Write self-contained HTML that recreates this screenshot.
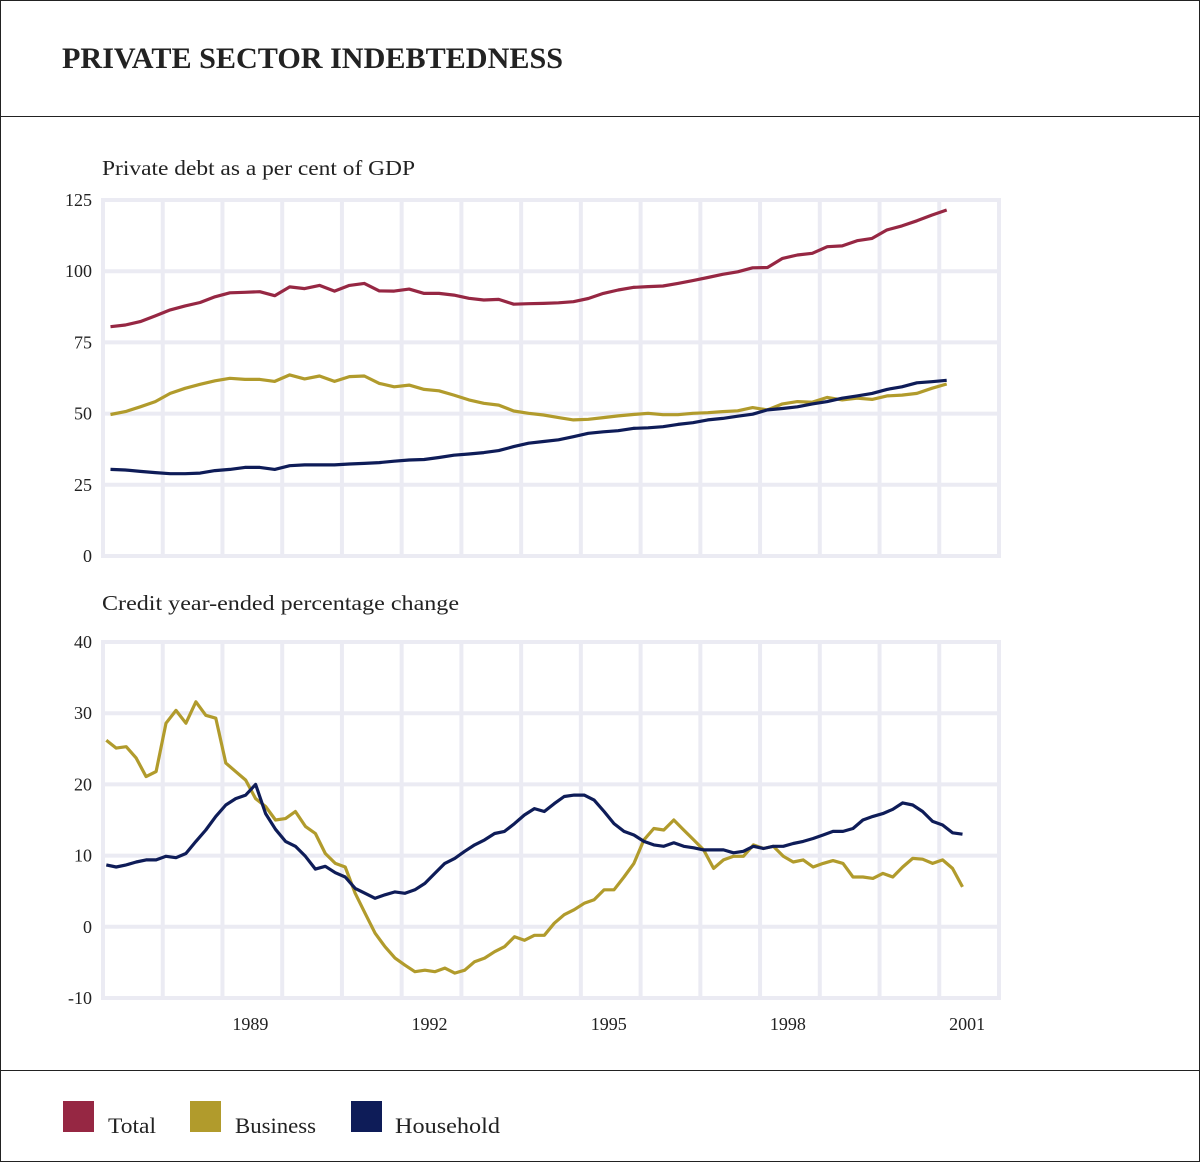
<!DOCTYPE html>
<html><head><meta charset="utf-8"><style>
html,body{margin:0;padding:0;background:#fff}
svg{display:block}
text{font-family:"Liberation Serif",serif;fill:#222}
</style></head><body>
<svg id="c" width="1200" height="1162" viewBox="0 0 1200 1162">
<rect x="0.5" y="0.5" width="1199" height="1161" fill="#fff" stroke="#222" stroke-width="1"/>
<line x1="0" y1="116.5" x2="1200" y2="116.5" stroke="#222"/>
<line x1="0" y1="1070.5" x2="1200" y2="1070.5" stroke="#222"/>
<text x="62" y="68" font-size="30" font-weight="bold" textLength="501" lengthAdjust="spacingAndGlyphs">PRIVATE SECTOR INDEBTEDNESS</text>
<text x="102" y="175" font-size="21" textLength="313" lengthAdjust="spacingAndGlyphs">Private debt as a per cent of GDP</text>
<text x="102" y="610" font-size="21" textLength="357" lengthAdjust="spacingAndGlyphs">Credit year-ended percentage change</text>
<g id="topPanel"></g>
<g id="botPanel"></g>
<g>
<g><rect x="63" y="1101" width="31" height="31" fill="#962743"/><text x="108" y="1133" font-size="22" textLength="48" lengthAdjust="spacingAndGlyphs">Total</text></g>
<g><rect x="190" y="1101" width="31" height="31" fill="#b19b2c"/><text x="235" y="1133" font-size="22" textLength="81" lengthAdjust="spacingAndGlyphs">Business</text></g>
<g><rect x="351" y="1101" width="31" height="31" fill="#0e1c58"/><text x="395" y="1133" font-size="22" textLength="105" lengthAdjust="spacingAndGlyphs">Household</text></g>
</g>
</svg>
<script>
// Top panel: quarterly, private debt % of GDP
const levelStart = 1987.125;
const levelStep = 0.25;
const totalLevel = [80.5,81.1,82.3,84.3,86.4,87.8,89.0,91.0,92.4,92.6,92.8,91.4,94.5,93.9,95.0,93.0,95.0,95.7,93.1,93.0,93.7,92.2,92.2,91.6,90.5,89.9,90.1,88.4,88.6,
88.7,88.9,89.3,90.4,92.2,93.4,94.3,94.6,94.8,95.7,96.7,97.8,98.9,99.8,101.2,101.3,104.5,105.7,106.3,108.6,108.9,110.7,111.5,114.5,115.9,117.7,119.7,121.5];
const businessLevel = [49.7,50.7,52.4,54.2,57.1,58.9,60.3,61.5,62.4,62.0,62.0,61.3,63.6,62.2,63.2,61.3,63.0,63.2,60.6,59.4,60.0,58.5,58.0,56.5,54.8,53.6,53.0,50.9,50.1,
49.5,48.6,47.8,48.0,48.6,49.2,49.7,50.1,49.6,49.6,50.1,50.3,50.7,51.0,52.1,51.3,53.4,54.2,54.0,55.7,54.8,55.4,55.0,56.2,56.5,57.1,58.9,60.4];
const householdLevel = [30.4,30.2,29.7,29.3,28.9,28.9,29.1,30.0,30.4,31.1,31.1,30.4,31.7,32.0,32.0,32.0,32.3,32.5,32.8,33.3,33.7,33.9,34.6,35.4,35.8,36.3,37.0,38.4,39.6,
40.2,40.8,41.9,43.1,43.6,44.0,44.8,45.0,45.4,46.2,46.8,47.8,48.3,49.1,49.8,51.3,51.8,52.4,53.4,54.2,55.4,56.2,57.1,58.5,59.4,60.8,61.2,61.7];
const levelTicks = [0,25,50,75,100,125];
// Bottom panel: bi-monthly samples, year-ended % change
const growthStart = 1987.055;
const growthStep = 1/6;
const businessGrowth = [26.2,25.1,25.3,23.7,21.1,21.8,28.6,30.4,28.6,31.6,29.7,29.3,23.0,21.8,20.6,18.0,16.9,15.0,15.2,16.2,14.1,13.1,10.3,8.9,8.4,4.7,1.9,-0.9,-2.8,-4.4,-5.4,-6.3,-6.1,-6.3,-5.8,-6.5,-6.1,-4.9,-4.4,-3.5,-2.8,-1.4,-1.9,-1.2,
-1.2,0.5,1.7,2.4,3.3,3.8,5.2,5.2,7.0,8.9,12.2,13.8,13.6,15.0,13.6,12.2,10.8,8.2,9.4,9.9,9.9,11.5,11.0,11.3,9.9,9.1,9.4,8.4,8.9,9.3,8.9,7.0,7.0,6.8,7.5,7.0,8.4,9.6,9.5,8.9,9.4,8.2,5.6];
const householdGrowth = [8.7,8.4,8.7,9.1,9.4,9.4,9.9,9.7,10.3,12.0,13.6,15.5,17.1,18.0,18.5,20.0,15.9,13.7,12.0,11.3,9.9,8.1,8.5,7.6,7.0,5.4,4.7,4.0,4.5,4.9,4.7,5.2,6.1,7.5,8.9,9.6,10.6,11.5,12.2,13.1,13.4,14.5,15.7,16.6,
16.2,17.3,18.3,18.5,18.5,17.8,16.2,14.5,13.4,12.9,12.0,11.5,11.3,11.8,11.3,11.1,10.8,10.8,10.8,10.4,10.6,11.3,11.0,11.3,11.3,11.7,12.0,12.4,12.9,13.4,13.4,13.8,15.0,15.5,15.9,16.5,17.4,17.1,16.2,14.8,14.3,13.2,13.0];
const growthTicks = [-10,0,10,20,30,40];
const yearLabels = ["1989","1992","1995","1998","2001"];
const yearLabelPos = [1989.5,1992.5,1995.5,1998.5,2001.5];

const NS = "http://www.w3.org/2000/svg";
const X0 = 1987, X1 = 2002, PX0 = 103, PX1 = 999;
function xs(t){ return PX0 + (t - X0) / (X1 - X0) * (PX1 - PX0); }
function mk(tag, attrs, parent){ const e = document.createElementNS(NS, tag); for (const k in attrs) e.setAttribute(k, attrs[k]); parent.appendChild(e); return e; }

function panel(g, yTop, yBottom, vmin, vmax, ticks, name){
  const ys = v => yBottom - (v - vmin) / (vmax - vmin) * (yBottom - yTop);
  const grid = mk('g', {}, g);
  
  
  for (let yr = X0; yr <= X1; yr++) {
    const l = mk('line', {x1: xs(yr), x2: xs(yr), y1: yTop - 2, y2: yBottom + 2, stroke: '#ebebf3', 'stroke-width': 4}, grid);
    
    
  }
  ticks.forEach(v => {
    const l = mk('line', {x1: PX0 - 2, x2: PX1 + 2, y1: ys(v), y2: ys(v), stroke: '#ebebf3', 'stroke-width': 4}, grid);
    
    
    const t = mk('text', {x: 92, y: ys(v) + 6, 'font-size': 18, 'text-anchor': 'end'}, g);
    t.textContent = v;
    
    
  });
  return ys;
}
function series(g, vals, start, step, ys, color, name){
  const d = vals.map((v, i) => (i ? 'L' : 'M') + xs(start + i * step).toFixed(1) + ' ' + ys(v).toFixed(1)).join(' ');
  const p = mk('path', {d: d, fill: 'none', stroke: color, 'stroke-width': 3.2, 'stroke-linejoin': 'round'}, g);
  
  
}
const topG = document.getElementById('topPanel');
const ysT = panel(topG, 200, 556, 0, 125, levelTicks, 'top-panel');
series(topG, totalLevel, levelStart, levelStep, ysT, '#962743', 'total-debt-line');
series(topG, businessLevel, levelStart, levelStep, ysT, '#b19b2c', 'business-debt-line');
series(topG, householdLevel, levelStart, levelStep, ysT, '#0e1c58', 'household-debt-line');

const botG = document.getElementById('botPanel');
const ysB = panel(botG, 642, 998, -10, 40, growthTicks, 'bottom-panel');
series(botG, businessGrowth, growthStart, growthStep, ysB, '#b19b2c', 'business-credit-growth-line');
series(botG, householdGrowth, growthStart, growthStep, ysB, '#0e1c58', 'household-credit-growth-line');
yearLabels.forEach((lab, i) => {
  const t = mk('text', {x: xs(yearLabelPos[i]) - 2, y: 1030, 'font-size': 18, 'text-anchor': 'middle'}, botG);
  t.textContent = lab;
  
  
});
</script>
</body></html>
